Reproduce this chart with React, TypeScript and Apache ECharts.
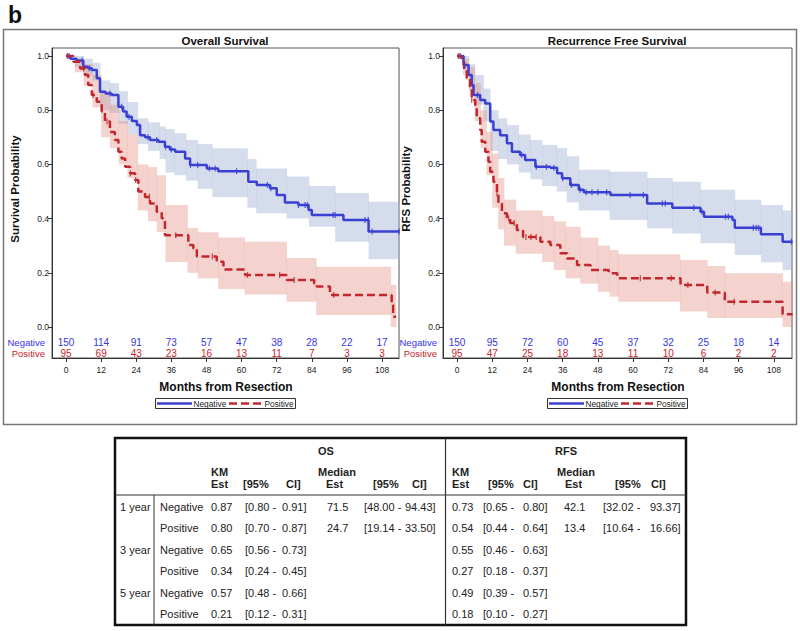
import React, { useEffect, useRef } from "react";
import * as echarts from "echarts";

const FONT = '"Liberation Sans", Arial, Helvetica, sans-serif';
const BLUE = "#3A40D2";
const RED = "#C1272D";
const BLUE_TXT = "#3535E6";
const RED_TXT = "#C8232D";
const BLUE_BAND = "rgba(162,177,213,0.45)";
const RED_BAND = "rgba(228,145,133,0.40)";

// ---------- at-risk table ----------
const atRiskTimes = [0, 12, 24, 36, 48, 60, 72, 84, 96, 108];
const osNegRisk = [150, 114, 91, 73, 57, 47, 38, 28, 22, 17];
const osPosRisk = [95, 69, 43, 23, 16, 13, 11, 7, 3, 3];
const rfsNegRisk = [150, 95, 72, 60, 45, 37, 32, 25, 18, 14];
const rfsPosRisk = [95, 47, 25, 18, 13, 11, 10, 6, 2, 2];
const xTicks = [0, 12, 24, 36, 48, 60, 72, 84, 96, 108];
const yTicks = [0, 0.2, 0.4, 0.6, 0.8, 1.0];

// ---------- Overall survival: Negative ----------
const osNegT = [0, 1.5, 3.6, 5.9, 7.5, 8.8, 10.5, 11.6, 13.5, 15.6, 17.9, 19.5, 20.7, 22.5, 24.2, 25.3, 27, 28.7, 31.6, 33.8, 35.5, 37.3, 40.7, 42.4, 48.1, 52, 62.3, 65.2, 69.7, 72, 74.8, 79.4, 82.9, 84, 94.8, 103.4, 114];
const osNegS = [1, 0.99, 0.983, 0.96, 0.955, 0.948, 0.918, 0.868, 0.862, 0.856, 0.813, 0.795, 0.776, 0.76, 0.745, 0.708, 0.7, 0.69, 0.684, 0.665, 0.655, 0.647, 0.622, 0.598, 0.585, 0.575, 0.536, 0.524, 0.512, 0.487, 0.459, 0.45, 0.432, 0.413, 0.395, 0.352, 0.352];
const osNegCens = [1, 5.5, 8, 15, 19, 21.5, 28, 31, 34, 36, 42.5, 45, 49, 51, 58.3, 68.8, 70, 79.4, 81.7, 82.5, 91.3, 92, 102.2, 103.3, 104.6, 113.8];
const osNegCiT = [0, 3, 6, 9, 11.6, 15, 18, 21, 24.5, 28, 32, 34, 37, 41, 45, 50, 62, 65, 75.4, 83, 92, 103.4];
const osNegCiHi = [1.0, 1.0, 0.99, 0.975, 0.91, 0.9, 0.87, 0.83, 0.77, 0.755, 0.74, 0.73, 0.715, 0.69, 0.675, 0.66, 0.62, 0.585, 0.555, 0.52, 0.494, 0.462];
const osNegCiLo = [1.0, 0.96, 0.93, 0.91, 0.8, 0.79, 0.75, 0.71, 0.675, 0.65, 0.62, 0.57, 0.56, 0.54, 0.51, 0.48, 0.44, 0.42, 0.4, 0.37, 0.315, 0.25];

// ---------- Overall survival: Positive ----------
const osPosT = [0, 2.5, 4.8, 6.5, 7.6, 8.8, 10.5, 12.2, 13.3, 15, 16.7, 17.9, 19, 20.2, 21.9, 23.6, 24.7, 27, 28.7, 31, 32.7, 33.8, 41.8, 43.5, 44.7, 51.5, 53.8, 61.2, 75.4, 84.8, 85.7, 90.2, 111.3, 111.8, 112.8];
const osPosS = [1, 0.979, 0.954, 0.93, 0.893, 0.856, 0.831, 0.795, 0.758, 0.72, 0.69, 0.647, 0.622, 0.591, 0.567, 0.542, 0.5, 0.48, 0.456, 0.425, 0.401, 0.339, 0.303, 0.29, 0.26, 0.241, 0.212, 0.192, 0.173, 0.16, 0.149, 0.118, 0.081, 0.038, 0.038];
const osPosCens = [0.5, 6, 9.2, 14, 22, 23.8, 28.5, 37.5, 50, 62, 73, 78, 91.5];
const osPosCiT = [0, 3, 6, 9, 12, 15, 18, 21, 24.5, 28, 31, 34, 41.5, 45, 52, 61, 75.4, 85.5, 111];
const osPosCiHi = [1.0, 0.99, 0.97, 0.93, 0.87, 0.82, 0.76, 0.71, 0.6, 0.59, 0.56, 0.45, 0.365, 0.35, 0.33, 0.315, 0.255, 0.222, 0.155];
const osPosCiLo = [1.0, 0.94, 0.89, 0.81, 0.7, 0.66, 0.6, 0.55, 0.43, 0.39, 0.35, 0.24, 0.2, 0.18, 0.14, 0.12, 0.093, 0.044, 0.0];

// ---------- RFS: Negative ----------
const rfsNegT = [0, 2.2, 3.9, 5, 5.6, 7.9, 9.6, 11.3, 12.4, 14.7, 17, 18.7, 21.5, 23.2, 26.7, 31.8, 34.1, 35.8, 38.6, 41.5, 43.2, 52.3, 64.8, 73.4, 83, 84.2, 93.9, 94.7, 103.6, 111, 114.4];
const rfsNegS = [1, 0.967, 0.93, 0.893, 0.856, 0.838, 0.825, 0.758, 0.727, 0.708, 0.678, 0.647, 0.635, 0.616, 0.591, 0.588, 0.567, 0.549, 0.524, 0.506, 0.497, 0.487, 0.456, 0.44, 0.425, 0.407, 0.395, 0.366, 0.342, 0.315, 0.315];
const rfsNegCens = [1, 2.5, 7, 22, 27, 30.5, 33, 36, 39, 42, 44, 46, 48, 51, 59, 63.5, 70, 71, 80.7, 83.5, 91.5, 92.5, 101, 102, 102.8, 114];
const rfsNegCiT = [0, 2, 4, 6, 9, 11.3, 14, 17, 21, 25, 29, 34, 37.4, 41.5, 52, 64.8, 73.4, 83, 94.7, 103.6, 111];
const rfsNegCiHi = [1.0, 1.0, 0.97, 0.93, 0.88, 0.8, 0.77, 0.745, 0.71, 0.69, 0.672, 0.66, 0.63, 0.58, 0.573, 0.55, 0.536, 0.506, 0.47, 0.45, 0.43];
const rfsNegCiLo = [1.0, 0.93, 0.88, 0.82, 0.76, 0.65, 0.62, 0.6, 0.57, 0.545, 0.52, 0.5, 0.46, 0.43, 0.395, 0.364, 0.345, 0.309, 0.266, 0.239, 0.21];

// ---------- RFS: Positive ----------
const rfsPosT = [0, 1.6, 2.4, 3.3, 4.4, 5, 6.2, 6.7, 7.9, 8.4, 9.6, 10.7, 11.3, 12.4, 13.6, 14.1, 15.3, 17, 18.1, 20.4, 22.5, 28.4, 31.8, 35.2, 37.5, 40.9, 45.5, 51.7, 54.6, 76.2, 85.3, 91.3, 111, 114.4];
const rfsPosS = [1, 0.979, 0.948, 0.918, 0.881, 0.838, 0.813, 0.77, 0.727, 0.684, 0.647, 0.61, 0.573, 0.536, 0.493, 0.456, 0.42, 0.401, 0.384, 0.358, 0.332, 0.315, 0.303, 0.272, 0.253, 0.229, 0.21, 0.198, 0.18, 0.155, 0.127, 0.093, 0.047, 0.047];
const rfsPosCens = [0.5, 5, 13.6, 17.6, 19.5, 23.5, 25.2, 27, 62.5, 73, 78.7, 88, 94.5];
const rfsPosCiT = [0, 2, 4, 6, 8, 10, 12, 14, 16, 20, 29, 33, 37, 42, 48, 52, 55, 76, 85.3, 91.3, 111];
const rfsPosCiHi = [1.0, 0.99, 0.96, 0.9, 0.8, 0.72, 0.64, 0.55, 0.47, 0.43, 0.41, 0.39, 0.37, 0.33, 0.3, 0.284, 0.268, 0.247, 0.225, 0.198, 0.167];
const rfsPosCiLo = [1.0, 0.95, 0.87, 0.76, 0.66, 0.56, 0.44, 0.36, 0.3, 0.27, 0.24, 0.21, 0.18, 0.16, 0.13, 0.112, 0.093, 0.057, 0.033, 0.033, 0.0];

// ---------- summary table ----------
const tblYears = ["1 year", "", "3 year", "", "5 year", ""];
const tblGroups = ["Negative", "Positive", "Negative", "Positive", "Negative", "Positive"];
const osKm = ["0.87", "0.80", "0.65", "0.34", "0.57", "0.21"];
const osKmLo = ["0.80", "0.70", "0.56", "0.24", "0.48", "0.12"];
const osKmHi = ["0.91", "0.87", "0.73", "0.45", "0.66", "0.31"];
const osMedian = ["71.5", "24.7"];
const osMedLo = ["48.00", "19.14"];
const osMedHi = ["94.43", "33.50"];
const rfsKm = ["0.73", "0.54", "0.55", "0.27", "0.49", "0.18"];
const rfsKmLo = ["0.65", "0.44", "0.46", "0.18", "0.39", "0.10"];
const rfsKmHi = ["0.80", "0.64", "0.63", "0.37", "0.57", "0.27"];
const rfsMedian = ["42.1", "13.4"];
const rfsMedLo = ["32.02", "10.64"];
const rfsMedHi = ["93.37", "16.66"];

function stepAt(T: number[], S: number[], t: number) {
  let v = S[0];
  for (let i = 0; i < T.length; i++) if (T[i] <= t) v = S[i];
  return v;
}

function txt(x: number, y: number, text: string, o: any = {}) {
  return {
    type: "text",
    x,
    y,
    rotation: o.rotation || 0,
    silent: true,
    z: 10,
    style: {
      text,
      fill: o.fill || "#222",
      font: `${o.bold ? "bold " : ""}${o.size || 11}px ${FONT}`,
      align: o.align || "left",
      verticalAlign: o.va || "middle",
    },
  };
}

function line(x1: number, y1: number, x2: number, y2: number, stroke: string, lineWidth: number, lineDash?: number[]) {
  return {
    type: "line",
    silent: true,
    z: 10,
    shape: { x1, y1, x2, y2 },
    style: { stroke, lineWidth, lineDash: lineDash || null },
  };
}

export default function App() {
  const ref = useRef<HTMLDivElement>(null);
  useEffect(() => {
    if (!ref.current) return;
    const chart = echarts.init(ref.current, null, { renderer: "svg" });

    const panels = [
      {
        neg: { T: osNegT, S: osNegS, cens: osNegCens, ciT: osNegCiT, hi: osNegCiHi, lo: osNegCiLo, risk: osNegRisk },
        pos: { T: osPosT, S: osPosS, cens: osPosCens, ciT: osPosCiT, hi: osPosCiHi, lo: osPosCiLo, risk: osPosRisk },
        grid: { left: 52, width: 347 },
        xmax: 113.8,
      },
      {
        neg: { T: rfsNegT, S: rfsNegS, cens: rfsNegCens, ciT: rfsNegCiT, hi: rfsNegCiHi, lo: rfsNegCiLo, risk: rfsNegRisk },
        pos: { T: rfsPosT, S: rfsPosS, cens: rfsPosCens, ciT: rfsPosCiT, hi: rfsPosCiHi, lo: rfsPosCiLo, risk: rfsPosRisk },
        grid: { left: 443, width: 349 },
        xmax: 114.2,
      },
    ];

    const NEG_ROW = -0.0554;
    const POS_ROW = -0.096;

    const grids: any[] = [];
    const xAxes: any[] = [];
    const yAxes: any[] = [];
    const series: any[] = [];

    panels.forEach((p, gi) => {
      grids.push({
        left: p.grid.left,
        top: 48,
        width: p.grid.width,
        height: 310,
        show: true,
        borderColor: "#555",
        borderWidth: 1,
        backgroundColor: "transparent",
      });
      xAxes.push({
        type: "value",
        gridIndex: gi,
        min: -4.8,
        max: p.xmax,
        axisLine: { show: true, onZero: false, lineStyle: { color: "#333", width: 1 } },
        axisTick: { show: true, customValues: xTicks, length: 4, lineStyle: { color: "#333" } },
        axisLabel: { customValues: xTicks, fontSize: 8.5, color: "#222", fontFamily: FONT, margin: 7 },
        splitLine: { show: false },
      });
      yAxes.push({
        type: "value",
        gridIndex: gi,
        min: -0.1144,
        max: 1.0295,
        axisLine: { show: true, onZero: false, lineStyle: { color: "#333", width: 1 } },
        axisTick: { show: true, customValues: yTicks, length: 4, lineStyle: { color: "#333" } },
        axisLabel: {
          customValues: yTicks,
          fontSize: 8.5,
          color: "#222",
          fontFamily: FONT,
          margin: 3,
          formatter: (v: number) => v.toFixed(1),
        },
        splitLine: { show: false },
      });

      const grp = [
        { d: p.neg, color: BLUE, band: BLUE_BAND, dash: null, txt: BLUE_TXT, row: NEG_ROW, name: "Negative" },
        { d: p.pos, color: RED, band: RED_BAND, dash: [8, 4], txt: RED_TXT, row: POS_ROW, name: "Positive" },
      ];

      grp.forEach((g) => {
        const endT = g.d.T[g.d.T.length - 1];
        const bandData = g.d.ciT.map((t, i) => [t, i + 1 < g.d.ciT.length ? g.d.ciT[i + 1] : endT, g.d.lo[i], g.d.hi[i]]);
        series.push({
          type: "custom",
          name: g.name + " band",
          xAxisIndex: gi,
          yAxisIndex: gi,
          silent: true,
          z: 1,
          encode: { x: [0, 1], y: [2, 3] },
          data: bandData,
          renderItem: (params: any, api: any) => {
            const a = api.coord([api.value(0), api.value(3)]);
            const b = api.coord([api.value(1), api.value(2)]);
            return {
              type: "rect",
              shape: { x: a[0], y: a[1], width: b[0] - a[0] + 0.4, height: b[1] - a[1] },
              style: { fill: g.band },
            };
          },
        });
      });

      grp.forEach((g) => {
        series.push({
          type: "line",
          name: g.name,
          xAxisIndex: gi,
          yAxisIndex: gi,
          step: "end",
          showSymbol: false,
          symbol: "none",
          silent: true,
          z: 3,
          lineStyle: { color: g.color, width: 2.5, type: g.dash || "solid" },
          data: g.d.T.map((t, i) => [t, g.d.S[i]]),
        });
        series.push({
          type: "scatter",
          name: g.name + " censored",
          xAxisIndex: gi,
          yAxisIndex: gi,
          silent: true,
          z: 4,
          symbol: "rect",
          symbolSize: [1.3, 6],
          itemStyle: { color: g.color },
          data: g.d.cens.map((t) => [t, stepAt(g.d.T, g.d.S, t)]),
        });
        series.push({
          type: "custom",
          name: g.name + " at risk",
          xAxisIndex: gi,
          yAxisIndex: gi,
          silent: true,
          z: 5,
          encode: { x: 0, y: 1 },
          data: atRiskTimes.map((t, i) => [t, g.row, g.d.risk[i]]),
          renderItem: (params: any, api: any) => {
            const c = api.coord([api.value(0), api.value(1)]);
            return {
              type: "text",
              x: c[0],
              y: c[1],
              style: {
                text: String(api.value(2)),
                fill: g.txt,
                font: `10px ${FONT}`,
                align: "center",
                verticalAlign: "middle",
              },
            };
          },
        });
      });
    });

    // graphics
    const gr: any[] = [];
    gr.push(txt(8, 15, "b", { bold: true, size: 23, fill: "#111" }));
    gr.push({
      type: "rect",
      silent: true,
      shape: { x: 3.5, y: 29.5, width: 793, height: 395 },
      style: { fill: "none", stroke: "#777", lineWidth: 1.5 },
    });
    const panelText = [
      { title: "Overall Survival", tx: 225, yname: "Survival Probability", yx: 15, rowX: 45, off: 0 },
      { title: "Recurrence Free Survival", tx: 617, yname: "RFS Probability", yx: 406, rowX: 437, off: 392 },
    ];
    panelText.forEach((pt) => {
      gr.push(txt(pt.tx, 41, pt.title, { bold: true, size: 11.5, align: "center", fill: "#111" }));
      gr.push(txt(pt.yx, 189, pt.yname, { bold: true, size: 11.5, align: "center", rotation: Math.PI / 2, fill: "#111" }));
      gr.push(txt(pt.rowX, 342, "Negative", { size: 9.5, align: "right", fill: BLUE_TXT }));
      gr.push(txt(pt.rowX, 353, "Positive", { size: 9.5, align: "right", fill: RED_TXT }));
      gr.push(txt(pt.tx + 1, 387, "Months from Resection", { bold: true, size: 12, align: "center", fill: "#111" }));
      const o = pt.off;
      gr.push({
        type: "rect",
        silent: true,
        z: 9,
        shape: { x: 155.5 + o, y: 398.5, width: 140, height: 10 },
        style: { fill: "#fff", stroke: "#333", lineWidth: 1 },
      });
      gr.push(line(157 + o, 403.5, 192 + o, 403.5, BLUE, 2.5));
      gr.push(txt(193.5 + o, 403.8, "Negative", { size: 8.3, fill: "#222" }));
      gr.push(line(229 + o, 403.5, 261 + o, 403.5, RED, 2.5, [8, 4]));
      gr.push(txt(264.5 + o, 403.8, "Positive", { size: 8.3, fill: "#222" }));
    });

    // summary table
    gr.push({
      type: "rect",
      silent: true,
      shape: { x: 115, y: 438, width: 571, height: 187 },
      style: { fill: "none", stroke: "#111", lineWidth: 2.5 },
    });
    gr.push(line(115, 495, 686, 495, "#333", 1));
    gr.push(line(154, 495, 154, 625, "#333", 1));
    gr.push(line(445.5, 438, 445.5, 625, "#333", 1.2));
    gr.push(txt(326, 451, "OS", { bold: true, size: 11, align: "center" }));
    gr.push(txt(566, 451, "RFS", { bold: true, size: 11, align: "center" }));
    const hdr = [
      [211, 472, "KM"], [211, 484, "Est"], [243, 484, "[95%"], [286, 484, "CI]"],
      [318, 472, "Median"], [326, 484, "Est"], [373, 484, "[95%"], [412, 484, "CI]"],
      [452, 472, "KM"], [452, 484, "Est"], [488, 484, "[95%"], [523, 484, "CI]"],
      [557, 472, "Median"], [565, 484, "Est"], [615, 484, "[95%"], [651, 484, "CI]"],
    ];
    hdr.forEach((h) => gr.push(txt(h[0] as number, h[1] as number, h[2] as string, { bold: true, size: 11 })));
    const rowY = [507, 528, 549.5, 571, 593, 614];
    rowY.forEach((y, i) => {
      if (tblYears[i]) gr.push(txt(120, y, tblYears[i], { size: 11 }));
      gr.push(txt(160, y, tblGroups[i], { size: 11 }));
      gr.push(txt(211, y, osKm[i], { size: 11 }));
      gr.push(txt(245, y, `[${osKmLo[i]} -`, { size: 11 }));
      gr.push(txt(282, y, `${osKmHi[i]}]`, { size: 11 }));
      gr.push(txt(452, y, rfsKm[i], { size: 11 }));
      gr.push(txt(483, y, `[${rfsKmLo[i]} -`, { size: 11 }));
      gr.push(txt(523, y, `${rfsKmHi[i]}]`, { size: 11 }));
      if (i < osMedian.length) {
        gr.push(txt(327, y, osMedian[i], { size: 11 }));
        gr.push(txt(364, y, `[${osMedLo[i]} -`, { size: 11 }));
        gr.push(txt(405, y, `${osMedHi[i]}]`, { size: 11 }));
        gr.push(txt(564, y, rfsMedian[i], { size: 11 }));
        gr.push(txt(603, y, `[${rfsMedLo[i]} -`, { size: 11 }));
        gr.push(txt(650, y, `${rfsMedHi[i]}]`, { size: 11 }));
      }
    });

    chart.setOption({
      animation: false,
      backgroundColor: "#fff",
      textStyle: { fontFamily: FONT },
      grid: grids,
      xAxis: xAxes,
      yAxis: yAxes,
      series,
      graphic: gr,
    });
    return () => chart.dispose();
  }, []);
  return (
    <div
      ref={ref}
      style={{ position: "absolute", left: 0, top: 0, width: 800, height: 631, background: "#fff" }}
    />
  );
}
